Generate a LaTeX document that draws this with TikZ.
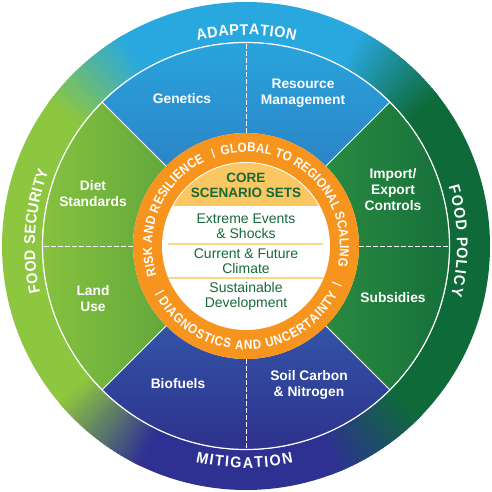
\documentclass[tikz,border=0pt]{standalone}
\usepackage{fontspec}
\setmainfont{Liberation Sans}
\newfontfamily\ringfamily[FakeStretch=0.88]{Liberation Sans}
\newfontfamily\outerfamily[FakeStretch=0.93]{Liberation Sans}
\usetikzlibrary{decorations.text}
\definecolor{rpolicy}{HTML}{0E6B39}
\definecolor{radapt}{HTML}{29A8E0}
\definecolor{rsecur}{HTML}{8DC63F}
\definecolor{rmitig}{HTML}{2E3192}
\definecolor{stopA}{HTML}{28A9E1}
\definecolor{stopB}{HTML}{2C84C6}
\definecolor{sleftA}{HTML}{8CC540}
\definecolor{sleftB}{HTML}{62A83B}
\definecolor{srightA}{HTML}{2A8A40}
\definecolor{srightB}{HTML}{126C3A}
\definecolor{sbotA}{HTML}{3254A7}
\definecolor{sbotB}{HTML}{2D2C88}
\definecolor{corange}{HTML}{F7941E}
\definecolor{cyellow}{HTML}{FBC762}
\definecolor{csep}{HTML}{FBD684}
\definecolor{cgreen}{HTML}{18693A}
\newcommand\outerlab{\outerfamily\fontsize{15.5}{18}\selectfont\bfseries\color{white}}
\newcommand\ringlab{\ringfamily\fontsize{13.2}{15}\selectfont\bfseries\color{white}}
\newcommand\ringtrans[3]{%
  \foreach \i in {0,...,23}{%
    \pgfmathsetmacro\aa{#1+\i}%
    \pgfmathsetmacro\bb{#1+\i+1.4}%
    \pgfmathtruncatemacro\pp{round((\i+0.5)/24*100)}%
    \fill[#3!\pp!#2] (\aa:204) arc[start angle=\aa,end angle=\bb,radius=204]
      -- (\bb:244) arc[start angle=\bb,end angle=\aa,radius=244] -- cycle;
  }}
\newcommand\ringseg[3]{%
  \fill[#3] (#1:204) arc[start angle=#1,end angle=#2,radius=204]
    -- (#2:244) arc[start angle=#2,end angle=#1,radius=244] -- cycle;}
\newcommand\secpath[2]{(#1:113) -- (#1:203.5) arc[start angle=#1,end angle=#2,radius=203.5] -- (#2:113) arc[start angle=#2,end angle=#1,radius=113] -- cycle}
\tikzset{
  seclab/.style={text=white, font=\fontsize{13.8}{16}\selectfont\bfseries, align=center, inner sep=0pt},
  corehead/.style={text=cgreen, font=\fontsize{13.5}{15}\selectfont\bfseries, align=center, inner sep=0pt},
  corelab/.style={text=cgreen, font=\fontsize{14}{15}\selectfont, align=center, inner sep=0pt},
  divline/.style={white, line width=0.9pt},
  axisdash/.style={white, line width=0.9pt, dash pattern=on 4.5pt off 2.5pt},
  ringsep/.style={white, line width=1.1pt},
}
\begin{document}
\begin{tikzpicture}[x=1pt,y=1pt]
\useasboundingbox (-246,-246) rectangle (246,246);
% outer ring
\ringseg{-70}{40}{rpolicy}
\ringseg{60}{122}{radapt}
\ringseg{142}{222}{rsecur}
\ringseg{242}{294}{rmitig}
\ringtrans{38}{rpolicy}{radapt}
\ringtrans{120}{radapt}{rsecur}
\ringtrans{220}{rsecur}{rmitig}
\ringtrans{292}{rmitig}{rpolicy}
% sectors
\shade[top color=stopA, bottom color=stopB] \secpath{45}{135};
\shade[left color=sleftA, right color=sleftB] \secpath{135}{225};
\shade[top color=sbotA, bottom color=sbotB] \secpath{225}{315};
\shade[left color=srightA, right color=srightB] \secpath{-45}{45};
\draw[white, line width=1.2pt] (0,0) circle[radius=203.5];
\foreach \d in {45,135,225,315} \draw[divline] (\d:113) -- (\d:203.5);
\foreach \d in {0,90,180,270} \draw[axisdash] (\d:113) -- (\d:203.5);
% orange ring and core
\fill[corange] (0,0) circle[radius=113];
\fill[white] (0,0) circle[radius=84];
\begin{scope}
  \clip (0,0) circle[radius=83];
  \fill[cyellow] (-90,40) rectangle (90,90);
\end{scope}
\draw[csep, line width=1.5pt] (-78,2) -- (77,2);
\draw[csep, line width=1.5pt] (-78,-32) -- (77,-32);
% ring separators
\foreach \d in {109.6,208.3,-22.7} \draw[ringsep] (\d:93.5) -- (\d:103.5);
% orange ring texts
\path[decorate, decoration={text along path, text align=fit to path, text={|\ringlab|GLOBAL TO REGIONAL SCALING}}]
  (105:94) arc[start angle=105,end angle=-12.5,radius=94];
\path[decorate, decoration={text along path, text align=fit to path, text={|\ringlab|RISK AND RESILIENCE}}]
  (198:94) arc[start angle=198,end angle=116,radius=94];
\path[decorate, decoration={text along path, text align=fit to path, text={|\ringlab|DIAGNOSTICS AND UNCERTAINTY}}]
  (212:103.5) arc[start angle=212,end angle=332,radius=103.5];
% outer ring texts
\path[decorate, decoration={text along path, text align=fit to path, text={|\outerlab|ADAPTATION}}]
  (103.3:211) arc[start angle=103.3,end angle=76.5,radius=211];
\path[decorate, decoration={text along path, text align=fit to path, text={|\outerlab|FOOD POLICY}}]
  (16.3:211) arc[start angle=16.3,end angle=-13.6,radius=211];
\path[decorate, decoration={text along path, text align=fit to path, text={|\outerlab|MITIGATION}}]
  (256.9:222) arc[start angle=256.9,end angle=282.3,radius=222];
\path[decorate, decoration={text along path, text align=fit to path, text={|\outerlab|FOOD SECURITY}}]
  (192.6:211) arc[start angle=192.6,end angle=159.2,radius=211];
% core texts
\node[corehead] (core) at (0,60.5) {CORE\\SCENARIO SETS};
\node[corelab] (extreme) at (0,19.5) {Extreme Events\\\& Shocks};
\node[corelab] (climate) at (0,-15.5) {Current \& Future\\Climate};
\node[corelab] (sustain) at (0,-50.5) {Sustainable\\Development};
% sector labels
\node[seclab] (genetics) at (-64,147) {Genetics};
\node[seclab] (resource) at (57,153) {Resource\\Management};
\node[seclab] (diet) at (-153,52) {Diet\\Standards};
\node[seclab] (land) at (-153,-53) {Land\\Use};
\node[seclab] (import) at (147,56) {Import/\\Export\\Controls};
\node[seclab] (subsidies) at (147,-52) {Subsidies};
\node[seclab] (biofuels) at (-68,-138) {Biofuels};
\node[seclab] (soil) at (63,-139) {Soil Carbon\\\& Nitrogen};
\end{tikzpicture}
\end{document}
